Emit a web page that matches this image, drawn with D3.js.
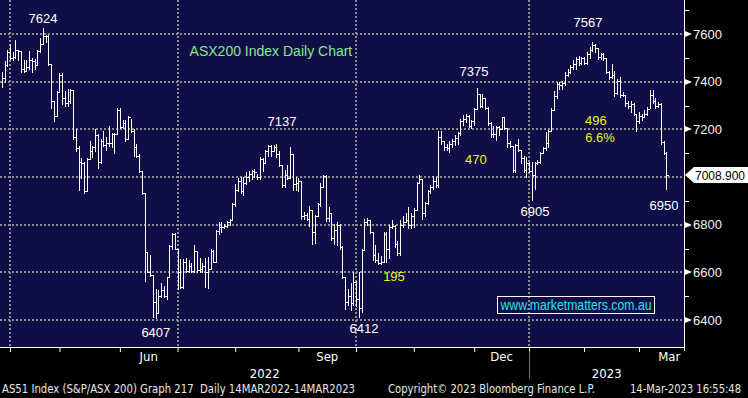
<!DOCTYPE html>
<html>
<head>
<meta charset="utf-8">
<script src="https://cdn.jsdelivr.net/npm/d3@7"></script>
<style>
html, body { margin: 0; padding: 0; background: #000; }
svg { display: block; }
</style>
</head>
<body>
<svg id="chart" width="748" height="398"></svg>
<script>
// daily bars, late Mar 2022 .. 14 Mar 2023 (high / low / close)
const highs = [
  7440,7485,7535,7560,7525,7575,7535,7530,7490,7490,7530,7500,7495,7535,7585,7624,7595,7595,7475,7320,
  7360,7435,7435,7360,7370,7370,7365,7200,7130,7080,7065,7080,7150,7130,7200,7180,7160,7195,7170,7215,
  7185,7185,7290,7290,7240,7240,7255,7245,7200,7140,7095,7025,6935,6685,6675,6590,6530,6525,6555,6545,
  6580,6715,6765,6765,6700,6655,6655,6660,6650,6640,6715,6690,6660,6640,6660,6665,6700,6695,6780,6810,
  6810,6805,6815,6825,6890,6970,6995,7000,7000,7020,7025,7030,7035,7015,7085,7080,7115,7135,7135,7135,
  7140,7110,7050,7030,7050,7125,7095,7000,6995,6985,6855,6850,6880,6860,6840,6890,6975,7010,7010,6875,
  6850,6805,6810,6805,6710,6580,6530,6555,6600,6565,6600,6700,6825,6830,6820,6770,6715,6680,6670,6770,
  6770,6800,6820,6800,6730,6820,6835,6850,6875,6850,6870,6980,7010,6990,6895,6945,6965,7005,7000,7195,
  7195,7150,7140,7150,7160,7175,7190,7245,7260,7265,7260,7240,7290,7375,7350,7350,7330,7295,7230,7215,
  7215,7215,7253,7253,7205,7150,7130,7140,7160,7115,7090,7085,7065,7065,7065,7070,7105,7125,7190,7197,
  7290,7360,7400,7400,7405,7440,7455,7470,7490,7505,7510,7505,7505,7525,7545,7567,7560,7540,7520,7520,
  7500,7445,7475,7445,7410,7420,7355,7345,7320,7320,7310,7265,7275,7265,7280,7295,7365,7365,7330,7315,
  7310,7150,7105
];
const lows = [
  7380,7400,7465,7495,7490,7500,7490,7440,7440,7445,7455,7440,7455,7470,7525,7560,7565,7470,7290,7235,
  7255,7355,7305,7300,7300,7310,7160,7110,6945,6995,6935,6940,7075,7085,7110,7040,7060,7130,7115,7130,
  7125,7100,7180,7205,7205,7150,7160,7190,7090,7085,7020,6930,6565,6600,6585,6413,6407,6430,6495,6495,
  6490,6580,6700,6700,6530,6535,6535,6600,6600,6600,6600,6600,6600,6600,6540,6535,6615,6645,6645,6760,
  6770,6785,6790,6800,6820,6880,6940,6935,6925,6970,6985,6990,7000,6990,6990,7025,7060,7090,7090,7110,
  7085,7045,6960,6960,6990,6995,6945,6945,6940,6825,6825,6820,6795,6720,6725,6835,6880,6960,6815,6815,
  6735,6720,6715,6700,6575,6445,6465,6441,6465,6460,6412,6435,6695,6800,6765,6650,6645,6635,6635,6645,
  6645,6660,6785,6705,6675,6675,6790,6810,6785,6785,6790,6860,6975,6825,6835,6885,6935,6950,6960,6960,
  7140,7115,7115,7105,7125,7135,7140,7175,7220,7230,7210,7205,7220,7285,7295,7295,7285,7220,7170,7170,
  7155,7175,7200,7200,7125,7125,7022,7020,7110,7060,7020,7000,7020,6905,6950,7055,7060,7100,7115,7125,
  7195,7280,7330,7370,7370,7385,7425,7435,7455,7455,7470,7475,7475,7475,7500,7530,7525,7495,7495,7490,
  7435,7410,7415,7340,7350,7335,7340,7300,7290,7275,7260,7195,7225,7240,7250,7260,7290,7310,7290,7295,
  7140,7095,6950
];
const closes = [
  7415,7470,7525,7500,7505,7535,7530,7455,7445,7460,7490,7485,7470,7530,7560,7590,7590,7475,7320,7255,
  7355,7430,7330,7310,7320,7365,7170,7120,7065,7060,6940,7075,7110,7125,7175,7065,7150,7135,7145,7145,
  7180,7180,7280,7210,7225,7160,7250,7195,7125,7090,7025,6935,6685,6600,6590,6475,6430,6500,6525,6500,
  6580,6710,6760,6700,6600,6540,6645,6605,6625,6605,6690,6610,6615,6625,6600,6615,6690,6645,6775,6790,
  6790,6795,6810,6820,6885,6945,6985,6940,6975,7000,7015,7025,7020,7000,7075,7060,7110,7130,7110,7125,
  7095,7050,6965,7010,6995,7095,6970,6975,6985,6835,6840,6825,6860,6770,6835,6885,6960,7005,6830,6850,
  6745,6780,6800,6705,6580,6475,6500,6470,6560,6490,6450,6695,6810,6820,6770,6675,6650,6640,6645,6760,
  6700,6790,6795,6720,6680,6800,6810,6820,6800,6835,6860,6975,6990,6850,6890,6940,6960,6985,6965,7170,
  7150,7125,7120,7140,7150,7165,7185,7235,7245,7255,7215,7235,7285,7350,7300,7330,7290,7225,7180,7180,
  7210,7200,7250,7205,7145,7130,7030,7135,7115,7080,7030,7060,7025,7010,7060,7065,7100,7120,7145,7195,
  7280,7340,7390,7385,7395,7430,7440,7460,7475,7495,7480,7500,7480,7515,7535,7555,7540,7505,7515,7500,
  7440,7420,7430,7352,7405,7345,7345,7310,7300,7305,7265,7235,7255,7250,7265,7285,7345,7320,7300,7305,
  7148,7100,7009
];

// bar index where each month starts (Apr 2022 .. Apr 2023)
const monthStarts = [3, 21, 43, 64, 85, 108, 129, 150, 172, 192, 212, 232, 254];
const monthLabels = ["", "", "Jun", "", "", "Sep", "", "", "Dec", "", "", "Mar"];
const quarterStarts = [3, 64, 129, 192];
const yearLabels = ["2022", "2023"];
const yearBreak = 192;

const priceTicks = [6400, 6600, 6800, 7000, 7200, 7400, 7600];
const minorTicks = [6500, 6700, 6900, 7100, 7300, 7500, 7700];
const lastPrice = 7008.9;

// annotations: text, bar index, price, colour
const notes = [
  ["7624", 15.0, 7667, "#ffffff"],
  ["7137", 102.0, 7235, "#ffffff"],
  ["6407", 56.1, 6350, "#ffffff"],
  ["6412", 131.9, 6367, "#ffffff"],
  ["7375", 171.9, 7445, "#ffffff"],
  ["7567", 213.4, 7651, "#ffffff"],
  ["6905", 194.1, 6858, "#ffffff"],
  ["6950", 241.1, 6883, "#ffffff"],
  ["195", 142.8, 6585, "#f0f01e"],
  ["470", 172.6, 7076, "#f0f01e"],
  ["496", 216.3, 7239, "#f0f01e"],
  ["6.6%", 217.8, 7168, "#f0f01e"]
];

const W = 748, H = 398;
const plotW = 684, plotH = 347;
const svg = d3.select("#chart");

const x = d3.scaleLinear().domain([3, 232]).range([10, 639]);
const y = d3.scaleLinear().domain([6287, 7743]).range([plotH, 0]);

svg.append("rect").attr("width", W).attr("height", H).attr("fill", "#000");
svg.append("rect").attr("width", plotW).attr("height", plotH).attr("fill", "#100e46");

svg.append("clipPath").attr("id", "plotclip")
  .append("rect").attr("width", plotW).attr("height", plotH);

const grid = svg.append("g").attr("stroke", "#8c8c8c").attr("stroke-width", 2)
  .attr("stroke-dasharray", "2,2");
grid.selectAll(".hg").data(priceTicks).enter().append("line")
  .attr("x1", 0).attr("x2", plotW)
  .attr("y1", d => Math.round(y(d))).attr("y2", d => Math.round(y(d)));
grid.selectAll(".vg").data(quarterStarts).enter().append("line")
  .attr("y1", 0).attr("y2", plotH)
  .attr("x1", d => Math.round(x(d))).attr("x2", d => Math.round(x(d)));

// HLC bars
const bars = svg.append("g").attr("clip-path", "url(#plotclip)")
  .attr("stroke", "#fff").attr("stroke-width", 1).attr("shape-rendering", "crispEdges");
closes.forEach(function(c, k) {
  let xr = Math.round(x(k)) + 0.5;
  bars.append("line").attr("x1", xr).attr("x2", xr)
    .attr("y1", Math.round(y(highs[k]))).attr("y2", Math.round(y(lows[k])) + 1);
  let yc = Math.round(y(c)) + 0.5;
  bars.append("line").attr("x1", xr).attr("x2", xr + 2.5).attr("y1", yc).attr("y2", yc);
});

// axes
svg.append("line").attr("x1", plotW + 0.5).attr("x2", plotW + 0.5).attr("y1", 0).attr("y2", plotH + 4)
  .attr("stroke", "#fff");
svg.append("line").attr("x1", 0).attr("x2", plotW + 1).attr("y1", plotH + 0.5).attr("y2", plotH + 0.5)
  .attr("stroke", "#fff");

const xAxis = d3.axisBottom(x)
  .tickValues(monthStarts.filter(d => x(d) <= plotW))
  .tickSize(5).tickFormat("");
const gx = svg.append("g").attr("transform", "translate(0," + plotH + ")").call(xAxis);
gx.select(".domain").remove();
gx.selectAll(".tick line").attr("stroke", "#fff");

const labelFont = "'DejaVu Sans Condensed', 'Liberation Sans Narrow', 'DejaVu Sans', sans-serif";
monthLabels.forEach(function(m, i) {
  if (!m) return;
  let cx = (x(monthStarts[i]) + x(monthStarts[i + 1])) / 2;
  svg.append("text").attr("x", cx).attr("y", 361).attr("text-anchor", "middle")
    .attr("fill", "#fff").attr("font-family", labelFont).attr("font-stretch", "condensed")
    .attr("font-size", 13).text(m);
});
let xb = Math.round(x(yearBreak)) + 0.5;
[[0, xb], [xb, plotW]].forEach(function(r, i) {
  svg.append("text").attr("x", (r[0] + r[1]) / 2).attr("y", 378).attr("text-anchor", "middle")
    .attr("fill", "#fff").attr("font-family", labelFont).attr("font-stretch", "condensed")
    .attr("font-size", 13).text(yearLabels[i]);
});
svg.append("line").attr("x1", xb).attr("x2", xb).attr("y1", 351).attr("y2", 379)
  .attr("stroke", "#6e6e6e");

// price axis (the 7000 label sits under the last-price flag)
const shown = priceTicks.filter(d => Math.abs(y(d) - y(lastPrice)) > 10);
const ga = svg.append("g");
ga.selectAll(".mt").data(minorTicks.filter(d => y(d) > 2)).enter().append("line")
  .attr("x1", plotW).attr("x2", plotW + 5)
  .attr("y1", d => Math.round(y(d)) + 0.5).attr("y2", d => Math.round(y(d)) + 0.5)
  .attr("stroke", "#fff");
ga.selectAll(".tri").data(shown).enter().append("path")
  .attr("d", d => { let yy = Math.round(y(d)); return "M685," + (yy - 3) + "L692," + yy + "L685," + (yy + 3) + "Z"; })
  .attr("fill", "#fff");
ga.selectAll(".pl").data(shown).enter().append("text")
  .attr("x", 693).attr("y", d => y(d)).attr("dy", "0.36em")
  .attr("fill", "#f2f2f2").attr("font-family", "'Liberation Sans', Arial, sans-serif")
  .attr("font-size", 13).text(d => d);

// last price flag
let yl = Math.round(y(lastPrice));
svg.append("path")
  .attr("d", "M685," + yl + "L694," + (yl - 8) + "L748," + (yl - 8) + "L748," + (yl + 8) + "L694," + (yl + 8) + "Z")
  .attr("fill", "#fff");
svg.append("text").attr("x", 695).attr("y", yl).attr("dy", "0.36em")
  .attr("fill", "#000").attr("font-family", "'Liberation Sans', Arial, sans-serif")
  .attr("font-size", 13).attr("textLength", 50).attr("lengthAdjust", "spacingAndGlyphs")
  .text(d3.format(".3f")(lastPrice));

// annotations
const ann = svg.append("g").attr("font-family", "'Liberation Sans', Arial, sans-serif")
  .attr("font-size", 13).attr("text-anchor", "middle");
notes.forEach(function(n) {
  ann.append("text").attr("x", x(n[1])).attr("y", y(n[2])).attr("dy", "0.36em")
    .attr("fill", n[3]).text(n[0]);
});
svg.append("text").attr("x", x(98)).attr("y", y(7529)).attr("dy", "0.36em")
  .attr("text-anchor", "middle").attr("fill", "#86e886")
  .attr("font-family", "'Liberation Sans', Arial, sans-serif").attr("font-size", 14)
  .text("ASX200 Index Daily Chart");

// watermark
svg.append("rect").attr("x", 497.5).attr("y", 296.5).attr("width", 157).attr("height", 17)
  .attr("fill", "none").attr("stroke", "#fff").attr("stroke-width", 1);
svg.append("text").attr("x", 576).attr("y", 305).attr("dy", "0.36em").attr("text-anchor", "middle")
  .attr("fill", "#1ee6e6").attr("font-family", "'Liberation Sans', Arial, sans-serif")
  .attr("font-size", 14).attr("textLength", 151).attr("lengthAdjust", "spacingAndGlyphs")
  .text("www.marketmatters.com.au");

// footer
const footer = [
  ["AS51 Index (S&P/ASX 200) Graph 217  Daily 14MAR2022-14MAR2023", 2, 353, "start"],
  ["Copyright\u00a9 2023 Bloomberg Finance L.P.", 388, 207, "start"],
  ["14-Mar-2023 16:55:48", 741, 111, "end"]
];
footer.forEach(function(f) {
  svg.append("text").attr("x", f[1]).attr("y", 393).attr("text-anchor", f[3])
    .attr("fill", "#e8e8e8").attr("font-family", labelFont).attr("font-stretch", "condensed")
    .attr("font-size", 11.5).attr("textLength", f[2]).attr("lengthAdjust", "spacingAndGlyphs")
    .attr("xml:space", "preserve").text(f[0]);
});
</script>
</body>
</html>
